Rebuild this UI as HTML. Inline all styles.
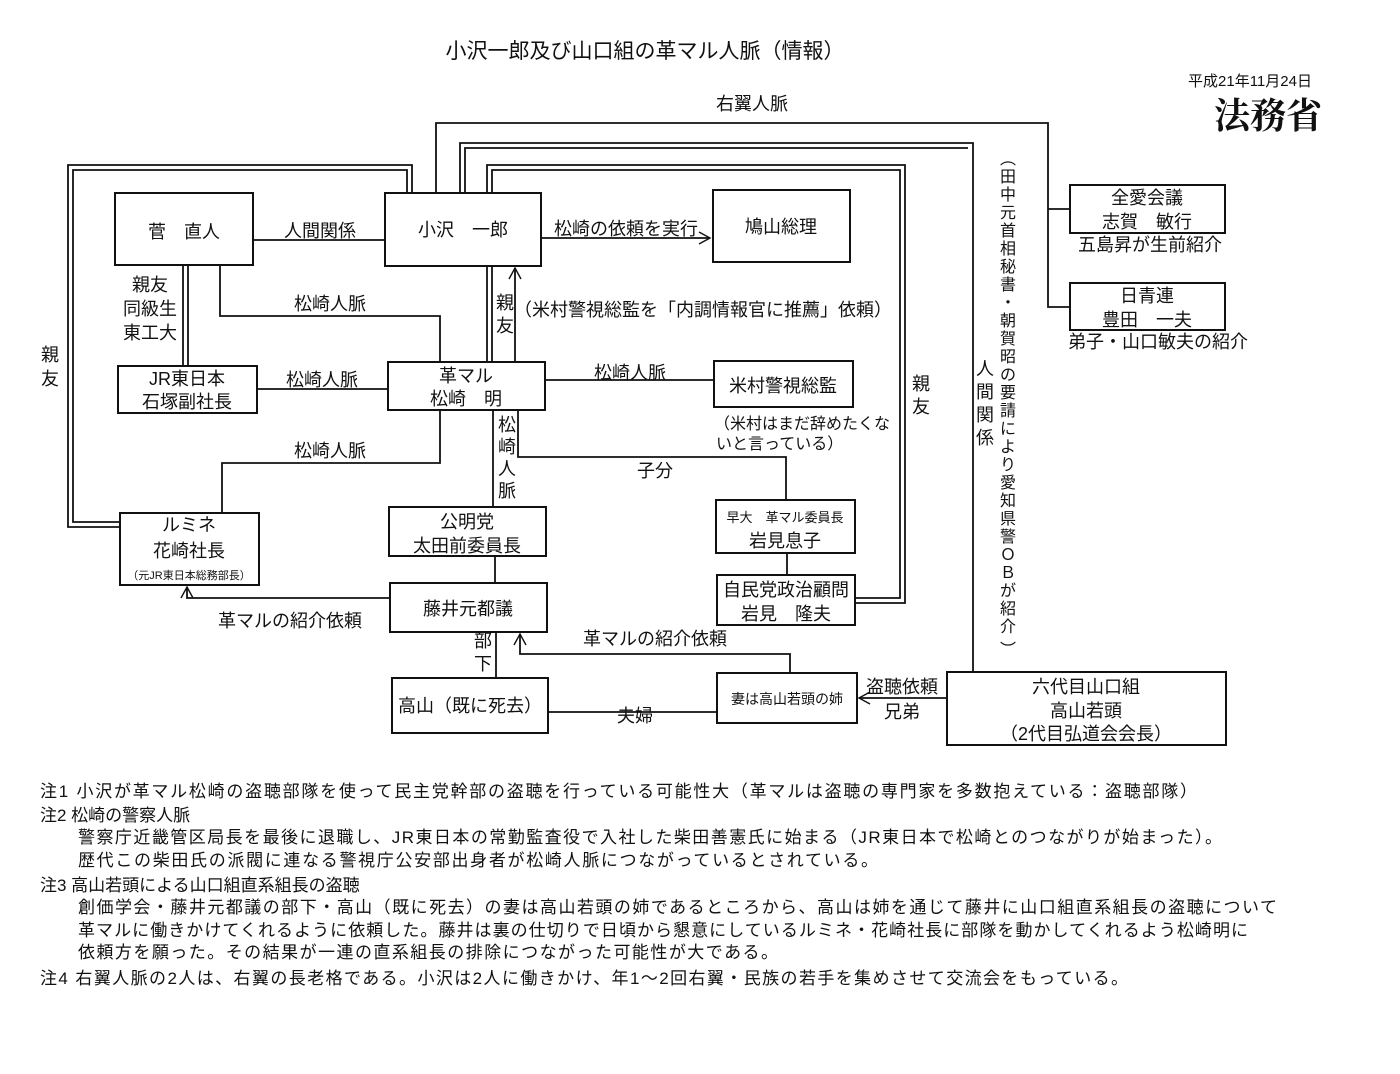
<!DOCTYPE html>
<html><head><meta charset="utf-8"><style>
html,body{margin:0;padding:0;background:#fff;}
svg{display:block;font-family:"Liberation Sans","Noto Sans CJK JP",sans-serif;}
text{fill:#111;}
</style></head><body>
<svg width="1400" height="1074" viewBox="0 0 1400 1074" xmlns="http://www.w3.org/2000/svg">
<rect width="1400" height="1074" fill="#fff"/>
<defs><marker id="a" markerWidth="14" markerHeight="14" refX="12" refY="7" orient="auto" markerUnits="userSpaceOnUse"><path d="M1,1 L12,7 L1,13" fill="none" stroke="#111" stroke-width="1.4"/></marker></defs>
<text x="645" y="58" font-size="21" text-anchor="middle">小沢一郎及び山口組の革マル人脈（情報）</text>
<text x="1250" y="86" font-size="15" text-anchor="middle">平成21年11月24日</text>
<text x="1268" y="128" font-size="36" font-weight="bold" text-anchor="middle" font-family="Liberation Serif,Noto Serif CJK SC,serif">法務省</text>

<g fill="none" stroke="#111" stroke-width="1.8">
<polyline points="436,193 436,123 1048,123 1048,307 1070,307"/>
<line x1="1048" y1="209" x2="1070" y2="209"/>
<polyline points="460,193 460,143 973,143 973,672"/>
<polyline points="465,193 465,148 968,148"/>
<polyline points="487,362 487,165 905,165 905,603 855,603"/>
<polyline points="492,362 492,170 900,170 900,598 855,598"/>
<polyline points="412,193 412,165 68,165 68,527 120,527"/>
<polyline points="407,193 407,170 73,170 73,522 120,522"/>
<line x1="253" y1="240" x2="385" y2="240"/>
<line x1="541" y1="238" x2="710" y2="238" marker-end="url(#a)"/>
<line x1="183" y1="265" x2="183" y2="366"/><line x1="188" y1="265" x2="188" y2="366"/>
<polyline points="220,265 220,316 440,316 440,362"/>
<line x1="515" y1="362" x2="515" y2="268" marker-end="url(#a)"/>
<line x1="257" y1="389" x2="388" y2="389"/>
<line x1="545" y1="380" x2="714" y2="380"/>
<polyline points="440,410 440,463 222,463 222,513"/>
<line x1="493" y1="410" x2="493" y2="507"/>
<polyline points="518,410 518,457 786,457 786,500"/>
<line x1="495" y1="556" x2="495" y2="583"/>
<line x1="787" y1="553" x2="787" y2="575"/>
<polyline points="390,598 187,598 187,587" marker-end="url(#a)"/>
<line x1="496" y1="632" x2="496" y2="678"/>
<polyline points="790,673 790,654 520,654 520,634" marker-end="url(#a)"/>
<line x1="548" y1="712" x2="717" y2="712"/>
<line x1="947" y1="698" x2="859" y2="698" marker-end="url(#a)"/>
</g>
<g fill="#fff" stroke="#111" stroke-width="2">
<rect x="115" y="193" width="138" height="72"/>
<rect x="385" y="193" width="156" height="73"/>
<rect x="713" y="190" width="137" height="72"/>
<rect x="118" y="366" width="139" height="47"/>
<rect x="388" y="362" width="157" height="48"/>
<rect x="714" y="361" width="139" height="46"/>
<rect x="120" y="513" width="139" height="72"/>
<rect x="389" y="507" width="157" height="49"/>
<rect x="716" y="500" width="139" height="53"/>
<rect x="717" y="575" width="138" height="50"/>
<rect x="390" y="583" width="157" height="49"/>
<rect x="392" y="678" width="156" height="55"/>
<rect x="717" y="673" width="140" height="50"/>
<rect x="947" y="672" width="279" height="73"/>
<rect x="1070" y="185" width="155" height="48"/>
<rect x="1070" y="283" width="155" height="47"/>
</g>

<g font-size="18" text-anchor="middle">
<text x="184" y="238">菅　直人</text>
<text x="463" y="236">小沢　一郎</text>
<text x="781" y="233">鳩山総理</text>
<text x="187" y="385">JR東日本</text>
<text x="187" y="408">石塚副社長</text>
<text x="466" y="382">革マル</text>
<text x="466" y="405">松崎　明</text>
<text x="783" y="392">米村警視総監</text>
<text x="189" y="531">ルミネ</text>
<text x="189" y="557">花崎社長</text>
<text x="189" y="579" font-size="11">（元JR東日本総務部長）</text>
<text x="467" y="528">公明党</text>
<text x="467" y="552">太田前委員長</text>
<text x="785" y="522" font-size="13">早大　革マル委員長</text>
<text x="785" y="547">岩見息子</text>
<text x="786" y="596">自民党政治顧問</text>
<text x="786" y="620">岩見　隆夫</text>
<text x="468" y="615">藤井元都議</text>
<text x="470" y="712">高山（既に死去）</text>
<text x="787" y="704" font-size="14">妻は高山若頭の姉</text>
<text x="1086" y="693">六代目山口組</text>
<text x="1086" y="717">高山若頭</text>
<text x="1086" y="740">（2代目弘道会会長）</text>
<text x="1147" y="204">全愛会議</text>
<text x="1147" y="228">志賀　敏行</text>
<text x="1150" y="251">五島昇が生前紹介</text>
<text x="1147" y="302">日青連</text>
<text x="1147" y="326">豊田　一夫</text>
<text x="1158" y="348">弟子・山口敏夫の紹介</text>
<text x="752" y="110">右翼人脈</text>
<text x="320" y="237">人間関係</text>
<text x="626" y="235">松崎の依頼を実行</text>
<text x="150" y="291">親友</text>
<text x="150" y="315">同級生</text>
<text x="150" y="339">東工大</text>
<text x="330" y="310">松崎人脈</text>
<text x="322" y="386">松崎人脈</text>
<text x="630" y="379">松崎人脈</text>
<text x="330" y="457">松崎人脈</text>
<text x="655" y="477">子分</text>
<text x="703" y="316">（米村警視総監を「内調情報官に推薦」依頼）</text>
<text x="290" y="627">革マルの紹介依頼</text>
<text x="655" y="645">革マルの紹介依頼</text>
<text x="635" y="722">夫婦</text>
<text x="902" y="693">盗聴依頼</text>
<text x="902" y="718">兄弟</text>
</g>
<g font-size="16">
<text x="714" y="429">（米村はまだ辞めたくな</text>
<text x="716" y="449">いと言っている）</text>
</g>
<g font-size="18" text-anchor="middle">
<text x="50" y="361">親</text><text x="50" y="385">友</text>
<text x="505" y="309">親</text><text x="505" y="332">友</text>
<text x="507" y="431">松</text><text x="507" y="453">崎</text><text x="507" y="475">人</text><text x="507" y="497">脈</text>
<text x="483" y="647">部</text><text x="483" y="670">下</text>
<text x="921" y="390">親</text><text x="921" y="413">友</text>
<text x="985" y="375">人</text><text x="985" y="398">間</text><text x="985" y="421">関</text><text x="985" y="444">係</text>
</g>
<g font-size="16" text-anchor="middle">
<text x="1008" y="164">︵</text><text x="1008" y="182">田</text><text x="1008" y="200">中</text><text x="1008" y="218">元</text><text x="1008" y="236">首</text><text x="1008" y="254">相</text><text x="1008" y="272">秘</text><text x="1008" y="290">書</text><text x="1008" y="308">・</text><text x="1008" y="326">朝</text><text x="1008" y="344">賀</text><text x="1008" y="362">昭</text><text x="1008" y="380">の</text><text x="1008" y="398">要</text><text x="1008" y="416">請</text><text x="1008" y="434">に</text><text x="1008" y="452">よ</text><text x="1008" y="470">り</text><text x="1008" y="488">愛</text><text x="1008" y="506">知</text><text x="1008" y="524">県</text><text x="1008" y="542">警</text><text x="1008" y="560">Ｏ</text><text x="1008" y="578">Ｂ</text><text x="1008" y="596">が</text><text x="1008" y="614">紹</text><text x="1008" y="632">介</text><text x="1008" y="655">︶</text>
</g>

<g font-size="17">
<text x="40" y="797" textLength="1157">注1  小沢が革マル松崎の盗聴部隊を使って民主党幹部の盗聴を行っている可能性大（革マルは盗聴の専門家を多数抱えている：盗聴部隊）</text>
<text x="40" y="821">注2  松崎の警察人脈</text>
<text x="78" y="843" textLength="1144">警察庁近畿管区局長を最後に退職し、JR東日本の常勤監査役で入社した柴田善憲氏に始まる（JR東日本で松崎とのつながりが始まった）。</text>
<text x="78" y="866" textLength="800">歴代この柴田氏の派閥に連なる警視庁公安部出身者が松崎人脈につながっているとされている。</text>
<text x="40" y="891">注3  高山若頭による山口組直系組長の盗聴</text>
<text x="78" y="913" textLength="1199">創価学会・藤井元都議の部下・高山（既に死去）の妻は高山若頭の姉であるところから、高山は姉を通じて藤井に山口組直系組長の盗聴について</text>
<text x="78" y="936" textLength="1170">革マルに働きかけてくれるように依頼した。藤井は裏の仕切りで日頃から懇意にしているルミネ・花崎社長に部隊を動かしてくれるよう松崎明に</text>
<text x="78" y="958" textLength="700">依頼方を願った。その結果が一連の直系組長の排除につながった可能性が大である。</text>
<text x="40" y="984" textLength="1088">注4  右翼人脈の2人は、右翼の長老格である。小沢は2人に働きかけ、年1～2回右翼・民族の若手を集めさせて交流会をもっている。</text>
</g>
</svg>
</body></html>
